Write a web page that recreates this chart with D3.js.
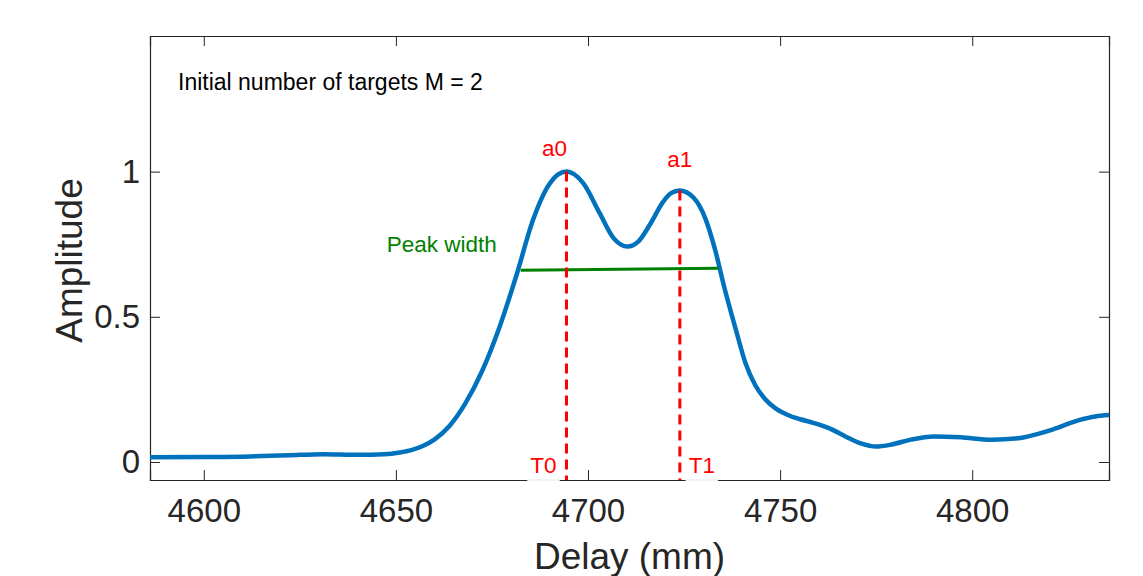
<!DOCTYPE html>
<html>
<head>
<meta charset="utf-8">
<script src="https://cdn.jsdelivr.net/npm/d3@7"></script>
<style>
  body { margin: 0; background: #fff; }
  text { font-family: "Liberation Sans", Arial, Helvetica, sans-serif; }
</style>
</head>
<body>
<div id="chart"></div>
<script>
// signal (delay in mm, amplitude)
const delay = [4586, 4600, 4612, 4622, 4631, 4640, 4647, 4651, 4654, 4657, 4660, 4664, 4668,
  4672.5, 4677, 4681.4, 4685.7, 4690, 4694.4, 4698.7, 4703, 4706.6, 4710.3, 4713, 4716,
  4719.5, 4721.5, 4723.9, 4727.5, 4730.5, 4733, 4735.5, 4738.5, 4741, 4743.5, 4746, 4749,
  4752, 4755, 4758.6, 4763, 4767, 4771, 4775, 4779, 4784, 4790, 4797, 4805, 4812, 4820, 4828, 4832, 4835.6];
const amplitude = [0.016, 0.017, 0.019, 0.023, 0.027, 0.025, 0.027, 0.033, 0.041, 0.055, 0.077, 0.125, 0.2,
  0.315, 0.466, 0.644, 0.834, 0.958, 1.0, 0.961, 0.858, 0.772, 0.742, 0.758, 0.815,
  0.895, 0.925, 0.935, 0.91, 0.84, 0.735, 0.6, 0.455, 0.34, 0.265, 0.218, 0.183,
  0.162, 0.148, 0.135, 0.115, 0.088, 0.064, 0.053, 0.06, 0.077, 0.088, 0.085, 0.077, 0.082, 0.108, 0.145, 0.157, 0.162];

// detected peaks
const peakNames = ["a0", "a1"];
const peakDelay = [4694.4, 4723.9];
const peakAmp = [1.0, 0.935];
const delayNames = ["T0", "T1"];

// peak width segment
const widthDelay = [4682.5, 4733.9];
const widthAmp = [0.66, 0.667];

const xTicks = [4600, 4650, 4700, 4750, 4800];
const yTicks = [0, 0.5, 1];

const W = 1143, H = 576;
const margin = { top: 36, right: 34, bottom: 96, left: 150 };
const width = W - margin.left - margin.right,
      height = H - margin.top - margin.bottom;

const svg = d3.select("#chart").append("svg")
    .attr("width", W)
    .attr("height", H);

const g = svg.append("g")
    .attr("transform", "translate(" + margin.left + "," + margin.top + ")");

const x = d3.scaleLinear().domain([4586, 4835.6]).range([0, width]);
const y = d3.scaleLinear().domain([-0.062, 1.467]).range([height, 0]);

const axisColor = "#262626";

// clip for the curve
g.append("clipPath").attr("id", "clip")
  .append("rect").attr("width", width).attr("height", height);

// axes (MATLAB-like box with inward ticks)
const fmt = d => d3.format("~g")(d);
const xAxis = g.append("g").attr("transform", "translate(0," + height + ")")
    .call(d3.axisBottom(x).tickValues(xTicks).tickSize(-10).tickPadding(19).tickFormat(d3.format("d")));
const xTop = g.append("g")
    .call(d3.axisTop(x).tickValues(xTicks).tickSize(-10).tickFormat(""));
const yAxis = g.append("g")
    .call(d3.axisLeft(y).tickValues(yTicks).tickSize(-10).tickPadding(10).tickFormat(fmt));
const yRight = g.append("g").attr("transform", "translate(" + width + ",0)")
    .call(d3.axisRight(y).tickValues(yTicks).tickSize(-10).tickFormat(""));

[xAxis, xTop, yAxis, yRight].forEach(a => {
  a.select(".domain").attr("stroke", axisColor).attr("stroke-width", 1.2);
  a.selectAll(".tick line").attr("stroke", axisColor).attr("stroke-width", 1);
  a.selectAll(".tick text").attr("fill", axisColor).style("font-size", "33px");
});
xAxis.selectAll(".tick text").attr("dy", "0.71em");

// signal curve
const line = d3.line()
    .x((d, i) => x(delay[i]))
    .y((d, i) => y(amplitude[i]))
    .curve(d3.curveMonotoneX);

g.append("path")
    .datum(amplitude)
    .attr("clip-path", "url(#clip)")
    .attr("fill", "none")
    .attr("stroke", "#0072BD")
    .attr("stroke-width", 4.5)
    .attr("stroke-linejoin", "round")
    .attr("d", line);

// peak width
g.append("line")
    .attr("x1", x(widthDelay[0])).attr("y1", y(widthAmp[0]))
    .attr("x2", x(widthDelay[1])).attr("y2", y(widthAmp[1]))
    .attr("stroke", "#008000")
    .attr("stroke-width", 3);

g.append("text")
    .attr("x", x(widthDelay[0]) - 24)
    .attr("y", y(widthAmp[0]) - 18)
    .attr("text-anchor", "end")
    .attr("fill", "#008000")
    .style("font-size", "22.5px")
    .text("Peak width");

// T labels with white background boxes
const tLabels = g.selectAll("g.tlab")
    .data(peakDelay)
    .enter().append("g")
    .attr("class", "tlab");

const tText = tLabels.append("text")
    .attr("x", (d, i) => i === 0 ? x(d) - 23 : x(d) + 22)
    .attr("y", height - 7.5)
    .attr("text-anchor", "middle")
    .attr("fill", "#ff0000")
    .style("font-size", "22.5px")
    .text((d, i) => delayNames[i]);

tLabels.insert("rect", "text")
    .each(function(d, i) {
      const bb = tText.nodes()[i].getBBox();
      d3.select(this)
        .attr("x", bb.x - 3).attr("y", bb.y - 1)
        .attr("width", bb.width + 6)
        .attr("height", height - bb.y + 2)
        .attr("fill", "#fff");
    });

tLabels.insert("line", "text")
    .each(function(d, i) {
      const bb = tText.nodes()[i].getBBox();
      d3.select(this)
        .attr("x1", bb.x - 3).attr("x2", bb.x + bb.width + 3)
        .attr("y1", height).attr("y2", height)
        .attr("stroke", "#e6e6e6").attr("stroke-width", 1.2);
    });

// peak markers
g.selectAll("line.peak")
    .data(peakDelay)
    .enter().append("line")
    .attr("class", "peak")
    .attr("x1", d => x(d)).attr("x2", d => x(d))
    .attr("y1", (d, i) => y(peakAmp[i]))
    .attr("y2", height)
    .attr("stroke", "#ff0000")
    .attr("stroke-width", 3)
    .attr("stroke-dasharray", "10,6");

g.selectAll("text.peak")
    .data(peakDelay)
    .enter().append("text")
    .attr("class", "peak")
    .attr("x", (d, i) => i === 0 ? x(d) - 12 : x(d))
    .attr("y", (d, i) => y(peakAmp[i]) - 15.5 - (i === 0 ? 0 : 8))
    .attr("text-anchor", "middle")
    .attr("fill", "#ff0000")
    .style("font-size", "22.5px")
    .text((d, i) => peakNames[i]);

// annotation
g.append("text")
    .attr("x", 28)
    .attr("y", 54)
    .attr("fill", "#000")
    .style("font-size", "23px")
    .text("Initial number of targets M = 2");

// axis labels
g.append("text")
    .attr("x", width / 2)
    .attr("y", height + 89)
    .attr("text-anchor", "middle")
    .attr("fill", axisColor)
    .style("font-size", "37px")
    .text("Delay (mm)");

g.append("text")
    .attr("transform", "translate(" + (82 - margin.left) + "," + (height / 2 + 2.5) + ") rotate(-90)")
    .attr("text-anchor", "middle")
    .attr("fill", axisColor)
    .style("font-size", "37px")
    .text("Amplitude");
</script>
</body>
</html>
